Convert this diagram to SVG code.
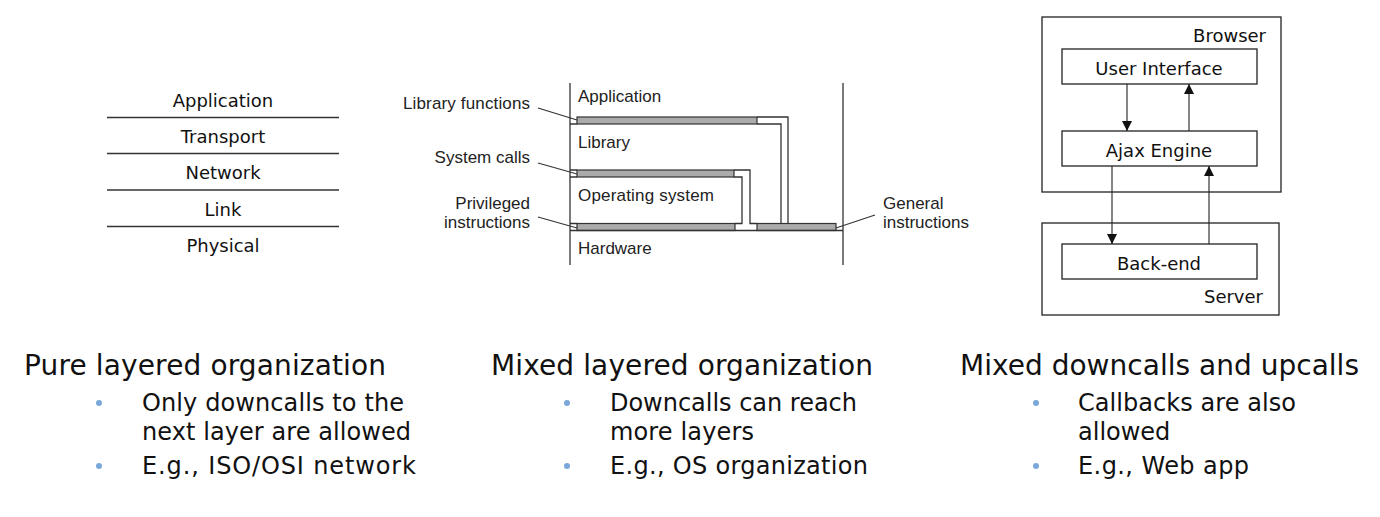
<svg xmlns="http://www.w3.org/2000/svg" width="1380" height="517" viewBox="0 0 1380 517">
<style>
.v{font-family:"DejaVu Sans",Verdana,sans-serif;fill:#111}
.h{font-family:"Liberation Sans",Arial,sans-serif;fill:#222;font-size:17px}
.ln{stroke:#333;stroke-width:1.3;fill:none}
.bar{fill:#ababab;stroke:#333;stroke-width:1.2}
.box{fill:#fff;stroke:#222;stroke-width:1.3}
.arr{stroke:#222;stroke-width:1.1;fill:none}
.dot{fill:#7aa7d9}
</style>
<defs>
<marker id="ah" viewBox="0 0 10 10" refX="10" refY="5" markerWidth="10" markerHeight="10" markerUnits="userSpaceOnUse" orient="auto">
<path d="M0,0 L10,5 L0,10 z" fill="#111"/>
</marker>
</defs>
<rect width="1380" height="517" fill="#fff"/>

<!-- Pure layered -->
<g id="osi">
<g class="v" font-size="18" text-anchor="middle">
<text x="223" y="107">Application</text>
<text x="223" y="143">Transport</text>
<text x="223" y="179">Network</text>
<text x="223" y="216">Link</text>
<text x="223" y="252">Physical</text>
</g>
<g stroke="#333" stroke-width="1.3">
<line x1="107" y1="117.5" x2="339" y2="117.5"/>
<line x1="107" y1="153.5" x2="339" y2="153.5"/>
<line x1="107" y1="190" x2="339" y2="190"/>
<line x1="107" y1="226.5" x2="339" y2="226.5"/>
</g>
</g>

<!-- Mixed layered -->
<g id="os-layers">
<line class="ln" x1="570" y1="83" x2="570" y2="265"/>
<line class="ln" x1="843" y1="83" x2="843" y2="265"/>
<rect class="bar" x="577" y="117" width="180" height="7"/>
<rect class="bar" x="577" y="170" width="157" height="7"/>
<rect class="bar" x="577" y="223.5" width="158" height="7"/>
<rect class="bar" x="757" y="223.5" width="79" height="7"/>
<path class="ln" d="M570,124 H577 M757,124 H781 V223.5"/>
<path class="ln" d="M757,117 H788 V223.5"/>
<path class="ln" d="M570,170 H577 M570,177 H577 M734,177 H742 V223.5 H735"/>
<path class="ln" d="M734,170 H750 V223.5 H757"/>
<path class="ln" d="M570,223.5 H577 M570,230.5 H843"/>
<g class="h">
<text x="578" y="102">Application</text>
<text x="578" y="148">Library</text>
<text x="578" y="201" textLength="136" lengthAdjust="spacing">Operating system</text>
<text x="578" y="254">Hardware</text>
</g>
<g class="h" text-anchor="end">
<text x="530" y="109" textLength="127" lengthAdjust="spacing">Library functions</text>
<text x="530" y="163">System calls</text>
<text x="530" y="209">Privileged</text>
<text x="530" y="228">instructions</text>
</g>
<g class="h">
<text x="883" y="209">General</text>
<text x="883" y="228">instructions</text>
</g>
<g stroke="#333" stroke-width="1.1">
<line x1="538" y1="108" x2="577" y2="120"/>
<line x1="538" y1="163" x2="577" y2="174"/>
<line x1="538" y1="217" x2="577" y2="228"/>
<line x1="836" y1="228" x2="875" y2="215"/>
</g>
</g>

<!-- Web app -->
<g id="browser">
<rect class="box" x="1042" y="17" width="239" height="175"/>
<text class="v" font-size="18" x="1266" y="42" text-anchor="end">Browser</text>
</g>
<g id="ui">
<rect class="box" x="1062" y="49" width="195" height="35"/>
<text class="v" font-size="18" x="1159" y="75" text-anchor="middle">User Interface</text>
</g>
<g id="ajax">
<rect class="box" x="1062" y="131" width="195" height="35"/>
<text class="v" font-size="18" x="1159" y="157" text-anchor="middle">Ajax Engine</text>
</g>
<g id="server">
<rect class="box" x="1042" y="223" width="237" height="92"/>
<text class="v" font-size="18" x="1263" y="303" text-anchor="end">Server</text>
</g>
<g id="backend">
<rect class="box" x="1062" y="244" width="195" height="35"/>
<text class="v" font-size="18" x="1159" y="270" text-anchor="middle">Back-end</text>
</g>
<g id="connectors">
<line class="arr" x1="1127" y1="84" x2="1127" y2="131" marker-end="url(#ah)"/>
<line class="arr" x1="1189" y1="131" x2="1189" y2="84" marker-end="url(#ah)"/>
<line class="arr" x1="1112" y1="166" x2="1112" y2="244" marker-end="url(#ah)"/>
<line class="arr" x1="1209" y1="244" x2="1209" y2="166" marker-end="url(#ah)"/>
</g>

<!-- Captions -->
<g id="captions" class="v">
<text x="24" y="375" font-size="28" textLength="362" lengthAdjust="spacing">Pure layered organization</text>
<text x="142" y="411" font-size="24" textLength="262" lengthAdjust="spacing">Only downcalls to the</text>
<text x="142" y="440" font-size="24" textLength="269" lengthAdjust="spacing">next layer are allowed</text>
<text x="142" y="474" font-size="24" textLength="274" lengthAdjust="spacing">E.g., ISO/OSI network</text>
<circle class="dot" cx="99" cy="403" r="3"/>
<circle class="dot" cx="99" cy="466" r="3"/>

<text x="491" y="375" font-size="28" textLength="382" lengthAdjust="spacing">Mixed layered organization</text>
<text x="610" y="411" font-size="24" textLength="247" lengthAdjust="spacing">Downcalls can reach</text>
<text x="610" y="440" font-size="24" textLength="144" lengthAdjust="spacing">more layers</text>
<text x="610" y="474" font-size="24" textLength="258" lengthAdjust="spacing">E.g., OS organization</text>
<circle class="dot" cx="567" cy="403" r="3"/>
<circle class="dot" cx="567" cy="466" r="3"/>

<text x="960" y="375" font-size="28" textLength="399" lengthAdjust="spacing">Mixed downcalls and upcalls</text>
<text x="1078" y="411" font-size="24" textLength="218" lengthAdjust="spacing">Callbacks are also</text>
<text x="1078" y="440" font-size="24">allowed</text>
<text x="1078" y="474" font-size="24" textLength="171" lengthAdjust="spacing">E.g., Web app</text>
<circle class="dot" cx="1036" cy="403" r="3"/>
<circle class="dot" cx="1036" cy="466" r="3"/>
</g>
</svg>
